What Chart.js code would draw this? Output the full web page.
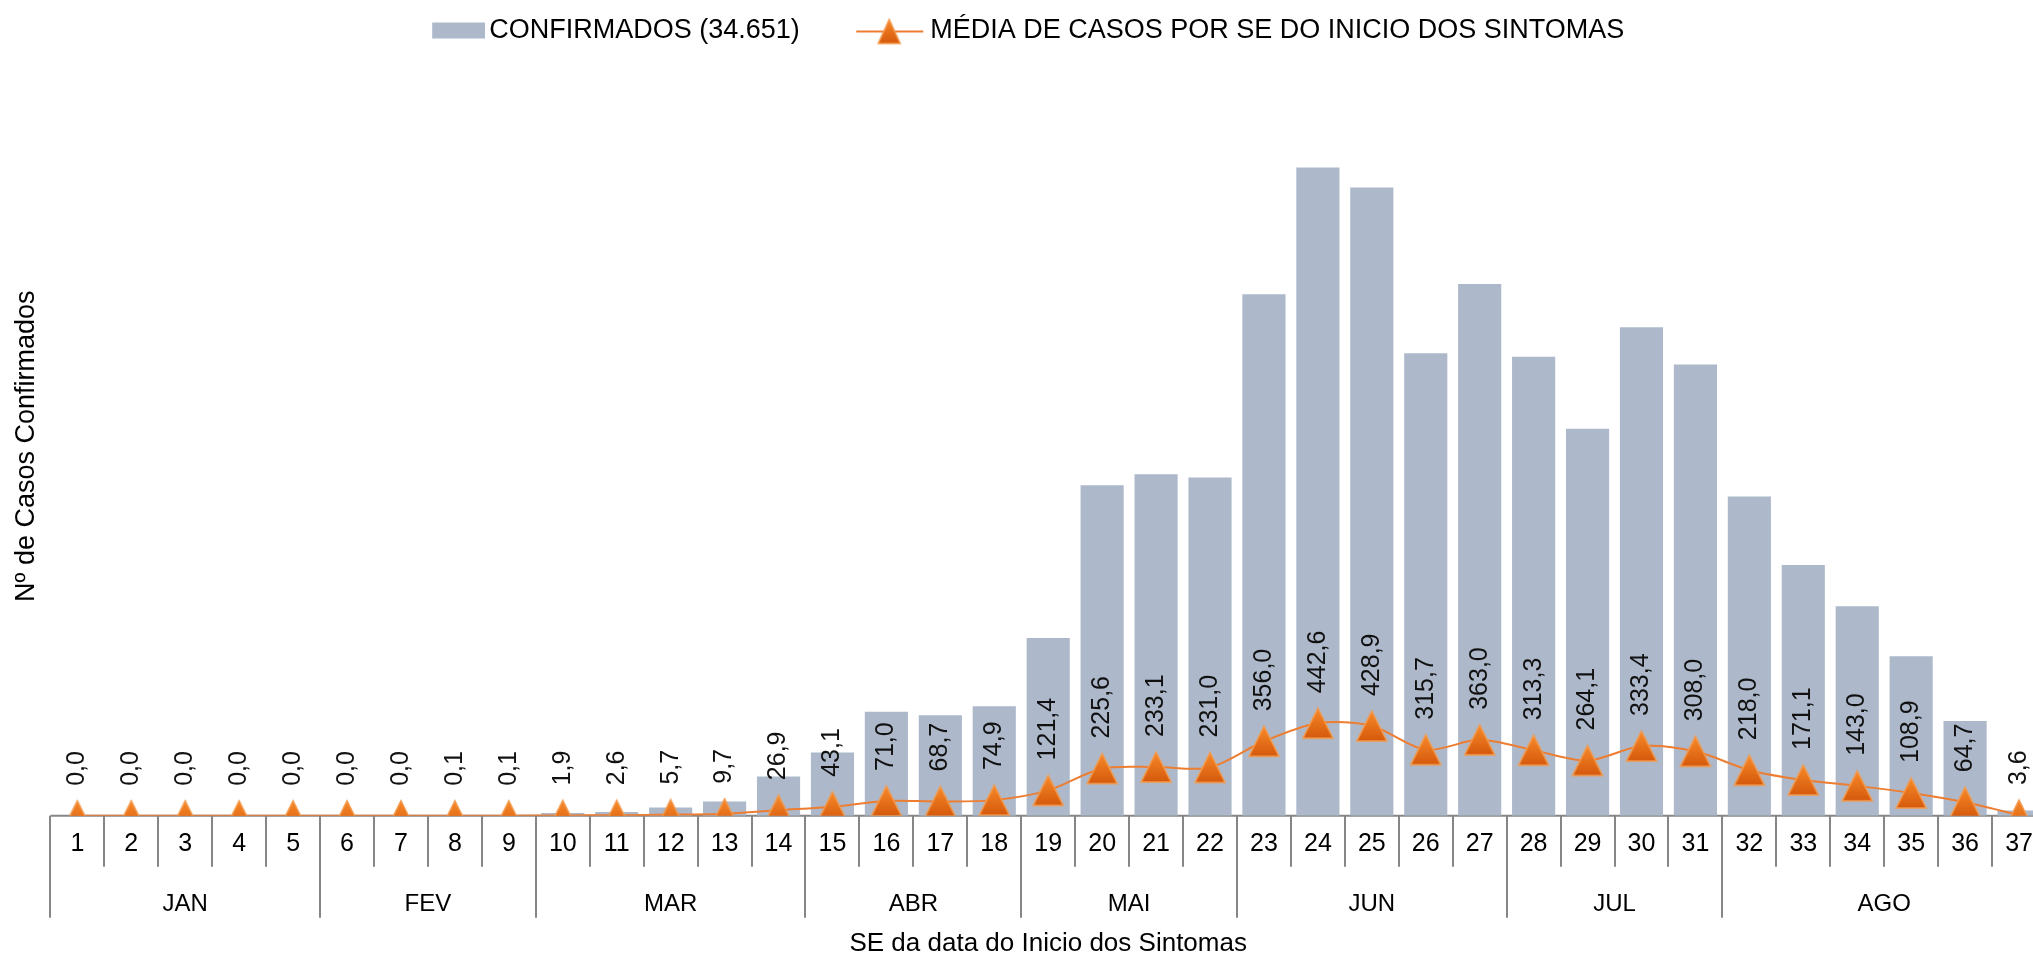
<!doctype html>
<html lang="pt">
<head>
<meta charset="utf-8">
<title>Casos confirmados por SE</title>
<script src="https://cdn.jsdelivr.net/npm/chart.js"></script>
<style>
  html, body { margin: 0; padding: 0; background: #fff; overflow: hidden; }
  /* o grafico fica um pouco maior que a janela: a ultima SE aparece cortada, como no original */
  #wrap { width: 2116px; height: 969px; margin-left: -53px; margin-top: -10px; }
</style>
</head>
<body>
<div id="wrap"><canvas id="grafico"></canvas></div>
<script>
// semanas epidemiologicas (SE)
const semanas = ['1','2','3','4','5','6','7','8','9','10','11','12','13','14','15','16','17','18','19',
  '20','21','22','23','24','25','26','27','28','29','30','31','32','33','34','35','36','37'];

// meses e quantas SE cada um cobre
const meses = ['JAN','FEV','MAR','ABR','MAI','JUN','JUL','AGO'];
const semanasPorMes = [5, 4, 5, 4, 4, 5, 4, 6];

// casos confirmados por SE (barras)
const confirmados = [0, 0, 0, 0, 0, 0, 0, 1, 1, 13, 18, 40, 68, 188, 302, 497, 481, 524, 850,
  1579, 1632, 1617, 2492, 3098, 3002, 2210, 2541, 2193, 1849, 2334, 2156, 1526, 1198, 1001, 762, 453, 25];

// media de casos por SE (linha)
const media = [0.0, 0.0, 0.0, 0.0, 0.0, 0.0, 0.0, 0.1, 0.1, 1.9, 2.6, 5.7, 9.7, 26.9, 43.1, 71.0, 68.7, 74.9, 121.4,
  225.6, 233.1, 231.0, 356.0, 442.6, 428.9, 315.7, 363.0, 313.3, 264.1, 333.4, 308.0, 218.0, 171.1, 143.0, 108.9, 64.7, 3.6];

const FONTE = "'Liberation Sans', Arial, sans-serif";
const COR_BARRA = '#ADB9CA';
const COR_LINHA = '#ED7D31';
const COR_EIXO = '#868686';

function desenhaTriangulo(ctx, cx, top, w, h) {
  const g = ctx.createLinearGradient(0, top, 0, top + h);
  g.addColorStop(0, '#F88A2A');
  g.addColorStop(1, '#D5590C');
  ctx.beginPath();
  ctx.moveTo(cx, top);
  ctx.lineTo(cx + w / 2, top + h);
  ctx.lineTo(cx - w / 2, top + h);
  ctx.closePath();
  ctx.fillStyle = g;
  ctx.fill();
  ctx.strokeStyle = '#F39A4E';
  ctx.lineWidth = 1.5;
  ctx.stroke();
}

// marcador triangular
const marcador = document.createElement('canvas');
marcador.width = 34; marcador.height = 34;
desenhaTriangulo(marcador.getContext('2d'), 17, 2, 30, 30);

// simbolos da legenda
const legBarra = document.createElement('canvas');
legBarra.width = 109; legBarra.height = 20;
(function () {
  const c = legBarra.getContext('2d');
  c.fillStyle = COR_BARRA;
  c.fillRect(56, 2, 53, 16);
})();
const legLinha = document.createElement('canvas');
legLinha.width = 109; legLinha.height = 30;
(function () {
  const c = legLinha.getContext('2d');
  c.strokeStyle = COR_LINHA;
  c.lineWidth = 2;
  c.beginPath(); c.moveTo(39, 16); c.lineTo(106, 16); c.stroke();
  desenhaTriangulo(c, 72, 4, 22, 24);
})();

const fmt = v => v.toFixed(1).replace('.', ',');

// rotulos da linha, girados
const rotulos = {
  id: 'rotulos',
  afterDatasetsDraw(chart) {
    const meta = chart.getDatasetMeta(1);
    const ctx = chart.ctx;
    ctx.save();
    ctx.font = '25px ' + FONTE;
    ctx.fillStyle = '#111';
    ctx.textAlign = 'left';
    ctx.textBaseline = 'middle';
    meta.data.forEach((p, i) => {
      ctx.save();
      ctx.translate(p.x, p.y - 30);
      ctx.rotate(-Math.PI / 2);
      ctx.fillText(fmt(media[i]), 0, 0);
      ctx.restore();
    });
    ctx.restore();
  }
};

// eixo x com grupos de meses
const eixoMeses = {
  id: 'eixoMeses',
  beforeDatasetsDraw(chart) {
    const x = chart.scales.x, area = chart.chartArea, ctx = chart.ctx;
    const base = area.bottom;
    const passo = x.getPixelForValue(1) - x.getPixelForValue(0);
    ctx.save();
    ctx.strokeStyle = COR_EIXO;
    ctx.lineWidth = 2;
    ctx.beginPath();
    ctx.moveTo(area.left, base); ctx.lineTo(area.right, base);
    ctx.stroke();
    const limites = [0];
    semanasPorMes.reduce((s, n) => { limites.push(s + n); return s + n; }, 0);
    for (let i = 0; i <= semanas.length; i++) {
      const px = Math.round(x.getPixelForValue(i) - passo / 2);
      const fim = limites.includes(i) ? base + 102 : base + 51;
      ctx.beginPath();
      ctx.moveTo(px, base); ctx.lineTo(px, fim);
      ctx.stroke();
    }
    ctx.restore();
  },
  afterDraw(chart) {
    const x = chart.scales.x, area = chart.chartArea, ctx = chart.ctx;
    const passo = x.getPixelForValue(1) - x.getPixelForValue(0);
    ctx.save();
    ctx.font = '24px ' + FONTE;
    ctx.fillStyle = '#000';
    ctx.textAlign = 'center';
    ctx.textBaseline = 'middle';
    let ini = 0;
    meses.forEach((m, k) => {
      const a = x.getPixelForValue(ini) - passo / 2;
      const b = x.getPixelForValue(ini + semanasPorMes[k] - 1) + passo / 2;
      ctx.fillText(m, (a + b) / 2, area.bottom + 89);
      ini += semanasPorMes[k];
    });
    ctx.restore();
  }
};

new Chart(document.getElementById('grafico'), {
  data: {
    labels: semanas,
    datasets: [
      {
        type: 'bar',
        label: 'CONFIRMADOS (34.651)',
        data: confirmados,
        backgroundColor: COR_BARRA,
        barPercentage: 0.8,
        categoryPercentage: 1.0,
        order: 2
      },
      {
        type: 'line',
        label: 'MÉDIA DE CASOS POR SE DO INICIO DOS SINTOMAS',
        data: media,
        borderColor: COR_LINHA,
        borderWidth: 2,
        tension: 0.3,
        pointStyle: marcador,
        pointRadius: 15,
        order: 1
      }
    ]
  },
  plugins: [eixoMeses, rotulos],
  options: {
    responsive: true,
    maintainAspectRatio: false,
    animation: false,
    layout: { padding: 0 },
    plugins: {
      tooltip: { enabled: false },
      legend: {
        position: 'top',
        labels: {
          usePointStyle: true,
          pointStyleWidth: 90,
          padding: 27,
          color: '#000',
          font: { family: FONTE, size: 27 },
          generateLabels: () => [
            { text: 'CONFIRMADOS (34.651)', pointStyle: legBarra, fillStyle: COR_BARRA, strokeStyle: COR_BARRA, lineWidth: 0, datasetIndex: 0 },
            { text: 'MÉDIA DE CASOS POR SE DO INICIO DOS SINTOMAS', pointStyle: legLinha, fillStyle: COR_LINHA, strokeStyle: COR_LINHA, lineWidth: 0, datasetIndex: 1 }
          ]
        }
      }
    },
    scales: {
      x: {
        grid: { display: false },
        border: { display: false },
        ticks: { color: '#000', padding: 5, maxRotation: 0, autoSkip: false, font: { family: FONTE, size: 25 } },
        title: {
          display: true,
          text: 'SE da data do Inicio dos Sintomas',
          color: '#000',
          font: { family: FONTE, size: 26 },
          padding: { top: 64, bottom: 0 }
        }
      },
      y: {
        min: 0,
        max: 3640,
        grid: { display: false },
        border: { display: false },
        ticks: { display: false },
        title: {
          display: true,
          text: 'Nº de Casos Confirmados   ',
          color: '#000',
          font: { family: FONTE, size: 27 },
          padding: { top: 63, bottom: 0 }
        }
      }
    }
  }
});
</script>
</body>
</html>
